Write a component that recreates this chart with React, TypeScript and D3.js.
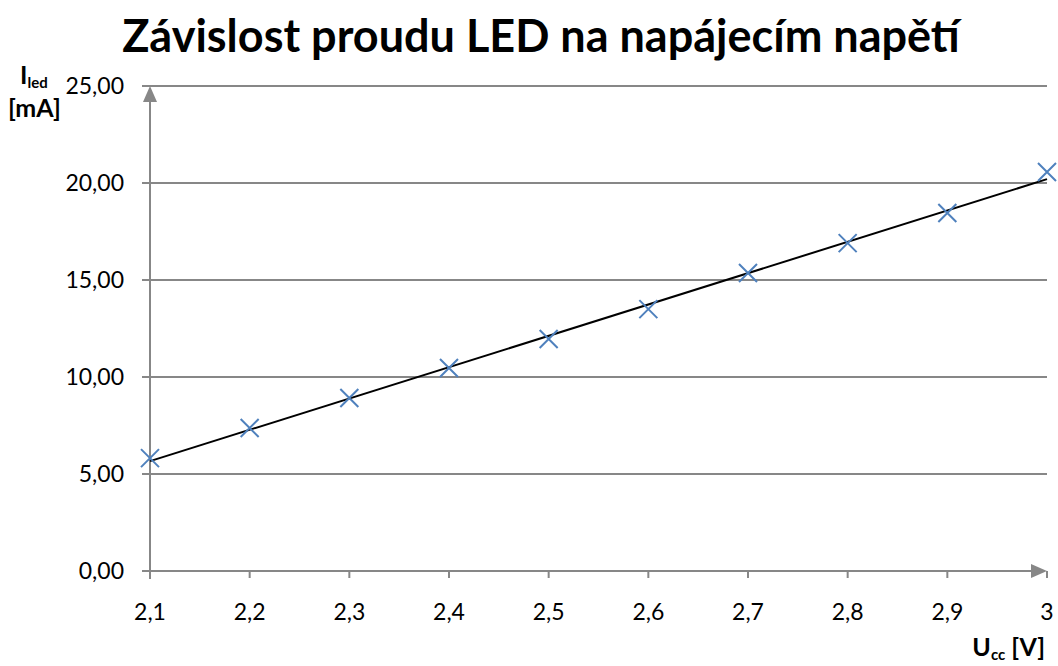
import React from 'react';
import * as d3 from 'd3';

// Napájecí napětí [V] a proud LED [mA]
const voltages = [2.1, 2.2, 2.3, 2.4, 2.5, 2.6, 2.7, 2.8, 2.9, 3.0];
const currents = [5.82, 7.37, 8.92, 10.46, 11.96, 13.5, 15.36, 16.9, 18.45, 20.57];
const yTicks = [0, 5, 10, 15, 20, 25];
const xTicks = [2.1, 2.2, 2.3, 2.4, 2.5, 2.6, 2.7, 2.8, 2.9, 3.0];

const width = 1058;
const height = 666;
const font = 'Lato, "Open Sans", sans-serif';
const gray = '#878787';

const fmtY = (v: number) => v.toFixed(2).replace('.', ',');
const fmtX = (v: number) => String(+v.toFixed(1)).replace('.', ',');

export default function App() {
  const x = d3.scaleLinear().domain([2.1, 3.0]).range([150, 1047]);
  const y = d3.scaleLinear().domain([0, 25]).range([571, 86]);

  // lineární trend (nejmenší čtverce)
  const mx = d3.mean(voltages)!;
  const my = d3.mean(currents)!;
  const sxy = d3.sum(voltages, (v, i) => (v - mx) * (currents[i] - my));
  const sxx = d3.sum(voltages, (v) => (v - mx) ** 2);
  const slope = sxy / sxx;
  const icpt = my - slope * mx;
  const trend = d3.line<number>()
    .x((v) => x(v))
    .y((v) => y(icpt + slope * v));

  const m = 9; // polovina velikosti značky ×
  const [x0, x1] = x.range();
  const yBase = y(0);
  const yTop = y(25);

  return (
    <svg width={width} height={height} style={{ position: 'absolute', left: 0, top: 0 }}>
      <rect width={width} height={height} fill="#fff" />
      <text x={541} y={52} textAnchor="middle" fontFamily={font} fontWeight="bold" fontSize={45} fill="#000">
        Závislost proudu LED na napájecím napětí
      </text>

      {/* mřížka */}
      {yTicks.filter((t) => t > 0).map((t) => (
        <line key={t} x1={x0 - 8} x2={x1} y1={y(t)} y2={y(t)} stroke={gray} strokeWidth={2} />
      ))}

      {/* osy se šipkami */}
      <line x1={x0 - 8} x2={x1 - 14} y1={yBase} y2={yBase} stroke={gray} strokeWidth={2} />
      <path d={`M${x1},${yBase} L${x1 - 16},${yBase - 7} L${x1 - 16},${yBase + 7} Z`} fill={gray} />
      <line x1={x0} x2={x0} y1={yBase + 8} y2={yTop + 14} stroke={gray} strokeWidth={2} />
      <path d={`M${x0},${yTop} L${x0 - 7},${yTop + 16} L${x0 + 7},${yTop + 16} Z`} fill={gray} />
      {xTicks.map((t) => (
        <line key={t} x1={x(t)} x2={x(t)} y1={yBase} y2={yBase + 7} stroke={gray} strokeWidth={2} />
      ))}

      {/* popisky os */}
      {yTicks.map((t) => (
        <text key={t} x={124} y={y(t)} dy="0.35em" textAnchor="end" fontFamily={font} fontSize={23} fill="#000">
          {fmtY(t)}
        </text>
      ))}
      {xTicks.map((t) => (
        <text key={t} x={x(t)} y={620} textAnchor="middle" fontFamily={font} fontSize={23} fill="#000">
          {fmtX(t)}
        </text>
      ))}

      {/* trend */}
      <path d={trend([2.1, 3.0])!} fill="none" stroke="#000" strokeWidth={2} />

      {/* měřené body */}
      {voltages.map((v, i) => (
        <path
          key={v}
          d={`M${x(v) - m},${y(currents[i]) - m}L${x(v) + m},${y(currents[i]) + m}M${x(v) - m},${y(currents[i]) + m}L${x(v) + m},${y(currents[i]) - m}`}
          stroke="#4F81BD"
          strokeWidth={2}
          fill="none"
        />
      ))}

      {/* názvy os */}
      <text x={20} y={84} fontFamily={font} fontWeight="bold" fontSize={25} fill="#000">
        I<tspan fontSize={15} dy={4}>led</tspan>
      </text>
      <text x={8} y={117} fontFamily={font} fontWeight="bold" fontSize={25} fill="#000">[mA]</text>
      <text x={1045} y={656} textAnchor="end" fontFamily={font} fontWeight="bold" fontSize={25} fill="#000">
        U<tspan fontSize={15} dy={4}>cc</tspan><tspan dy={-4}> [V]</tspan>
      </text>
    </svg>
  );
}
